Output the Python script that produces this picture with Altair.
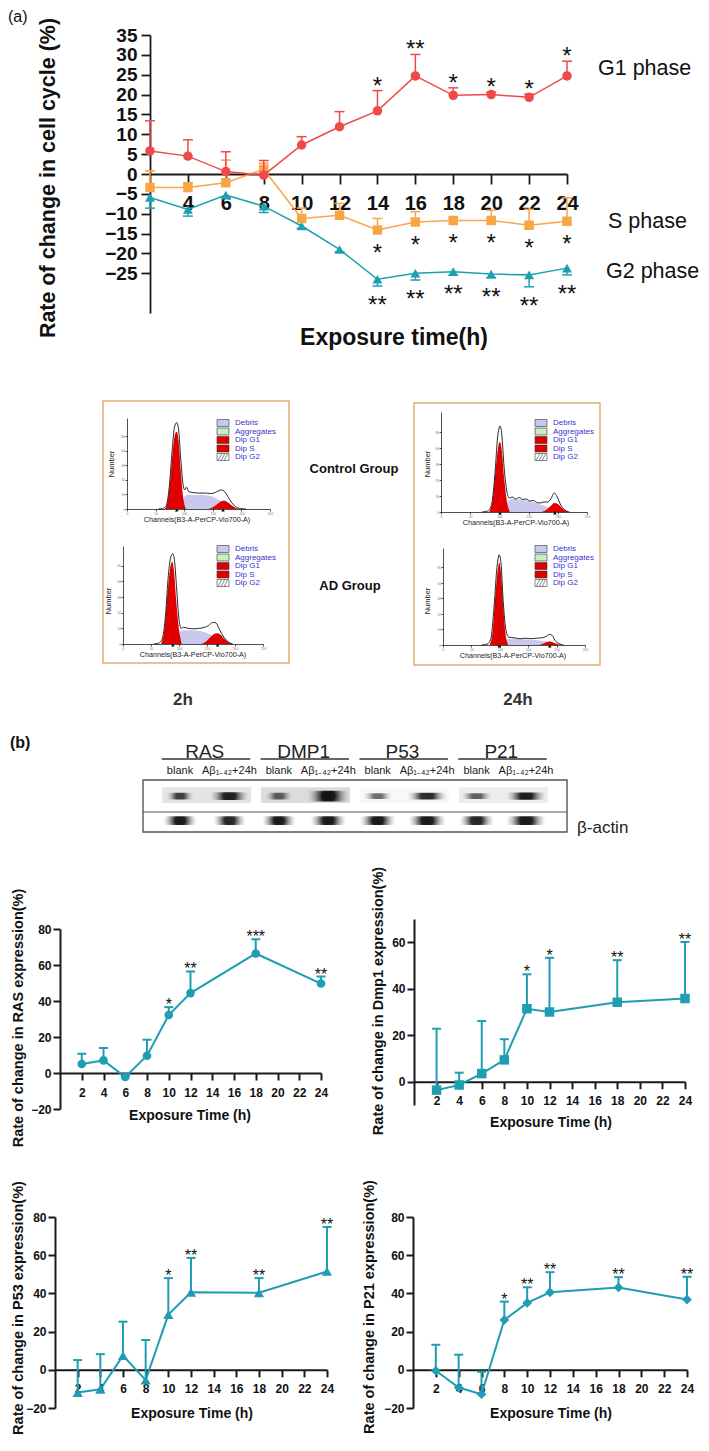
import altair as alt
import pandas as pd

FONT = "Liberation Sans"
W, H = 693, 1435
O = 8  # page margin: reference pixel -> chart pixel

# ===================== (a) cell-cycle phases =====================
hours_a = [2, 4, 6, 8, 10, 12, 14, 16, 18, 20, 22, 24]
g1_mean = [5.8, 4.5, 0.6, -0.3, 7.3, 11.9, 15.9, 24.7, 19.8, 20.0, 19.3, 24.7]
g1_err = [13.4, 8.6, 5.6, 3.4, 9.4, 15.7, 21.0, 30.1, 21.7, 20.6, 20.1, 28.4]
g1_sig = ["", "", "", "", "", "", "*", "**", "*", "*", "*", "*"]
s_mean = [-3.4, -3.4, -2.2, 1.2, -11.2, -10.4, -14.1, -12.1, -11.7, -11.7, -12.9, -11.9]
s_err = [0.8, -2.2, 3.5, 2.7, -8.6, -7.4, -11.2, -9.5, -11.0, -9.1, -8.9, -6.0]
s_sig = ["", "", "", "", "", "", "*", "*", "*", "*", "*", "*"]
g2_mean = [-5.9, -8.9, -5.3, -8.1, -13.1, -19.0, -26.5, -25.0, -24.6, -25.2, -25.4, -23.7]
g2_err = [-8.6, -10.6, -6.0, -9.7, -13.7, -19.6, -28.2, -26.7, -25.5, -26.1, -28.4, -25.4]
g2_sig = ["", "", "", "", "", "", "**", "**", "**", "**", "**", "**"]
a_xticks = [4, 6, 8, 10, 12, 14, 16, 18, 20, 22, 24]
a_yticks = [-25, -20, -15, -10, -5, 0, 5, 10, 15, 20, 25, 30, 35]

# ===================== flow cytometry histograms (channel, count) =====================
lt_outline = [(55, 0), (62, 0.5), (68, 3), (74, 25), (79, 65), (83, 90), (87, 95), (90, 88), (94, 55),
              (98, 27), (101, 21), (104, 24), (108, 19), (116, 18), (126, 17.5), (136, 17.5), (146, 17),
              (154, 18), (160, 20), (165, 21), (170, 19.5), (176, 14), (183, 7), (190, 2.5), (198, 0.5), (208, 0)]
lt_g1 = [(66, 0), (71, 8), (76, 35), (81, 70), (85, 84), (87, 85), (90, 76), (94, 42), (98, 14), (103, 0)]
lt_debris = [(95, 0), (99, 12), (104, 15.5), (115, 15.5), (130, 15.5), (145, 14.5), (158, 11), (170, 6.5),
             (182, 2.5), (195, 0)]
lt_g2 = [(142, 0), (150, 2), (158, 5.5), (165, 8.5), (170, 9), (176, 7.5), (184, 3.5), (192, 0.5), (196, 0)]

lb_outline = [(55, 0), (64, 1), (70, 5), (76, 30), (81, 70), (86, 90), (89, 92), (92, 85), (96, 55),
              (100, 25), (104, 16), (108, 17), (116, 16), (126, 15.5), (136, 16), (146, 17), (153, 19),
              (160, 22), (166, 21.5), (172, 15), (180, 7), (188, 2), (196, 0)]
lb_g1 = [(68, 0), (74, 15), (80, 55), (85, 80), (88, 84), (91, 75), (95, 45), (100, 15), (105, 0)]
lb_debris = [(97, 0), (101, 12), (108, 14), (125, 14), (140, 13), (155, 10), (168, 5.5), (182, 1.5), (195, 0)]
lb_g2 = [(140, 0), (148, 2.5), (156, 7), (164, 10.5), (169, 11), (175, 9), (183, 4), (191, 1), (196, 0)]

rt_outline = [(70, 0), (80, 1), (86, 6), (92, 35), (97, 75), (101, 86), (104, 78), (108, 45), (113, 20),
              (117, 14), (122, 15), (128, 13), (134, 14.5), (140, 12.5), (146, 13), (152, 11), (158, 11.5),
              (164, 9.5), (170, 9), (176, 10), (182, 10), (188, 13), (194, 19), (199, 15), (205, 7),
              (212, 2), (220, 0)]
rt_g1 = [(82, 0), (88, 10), (94, 45), (99, 68), (101, 70), (104, 62), (108, 35), (113, 10), (118, 0)]
rt_debris = [(111, 0), (115, 11), (122, 13), (135, 12.5), (150, 11), (165, 8.5), (180, 5.5), (195, 2.5), (210, 0)]
rt_g2 = [(172, 0), (180, 2), (188, 6), (194, 9), (200, 8), (207, 4), (214, 1), (218, 0)]

rb_outline = [(68, 0), (78, 1), (84, 6), (90, 40), (95, 80), (99, 93), (102, 85), (106, 45), (111, 15),
              (116, 8), (125, 7.5), (135, 6.5), (145, 7), (155, 6.5), (165, 7), (175, 7.5), (182, 9),
              (187, 11), (192, 10), (197, 5), (204, 1.5), (212, 0)]
rb_g1 = [(82, 0), (87, 12), (92, 50), (97, 80), (99, 85), (102, 75), (106, 40), (110, 12), (115, 0)]
rb_debris = [(109, 0), (113, 6), (125, 6.5), (145, 6), (165, 5), (180, 4), (195, 2), (208, 0)]
rb_g2 = [(170, 0), (177, 1.5), (183, 3), (188, 3.5), (194, 2.5), (201, 1), (208, 0)]

peak_channels = {"lt": [87, 168], "lb": [89, 169], "rt": [101, 195], "rb": [99, 188]}
legend_names = ["Debris", "Aggregates", "Dip G1", "Dip S", "Dip G2"]
legend_fills = ["#c9c9f0", "#c6efc6", "#e10000", "#e10000", "#ffffff"]
hist_xticks = [0, 50, 100, 150, 200, 250]
hist_yticks = [0, 16, 32, 48, 64, 80]

# ===================== western blot =====================
blot_groups = ["RAS", "DMP1", "P53", "P21"]
blot_lane_labels = ["blank", "Aβ₁₋₄₂+24h"] * 4
blot_lanes = [0, 1, 2, 3, 4, 5, 6, 7]
target_intensity = [0.8, 0.95, 0.65, 1.0, 0.6, 0.9, 0.65, 0.95]
target_width = [0.55, 0.78, 0.55, 0.85, 0.58, 0.8, 0.62, 0.8]
target_thick = [0.13, 0.15, 0.13, 0.21, 0.11, 0.13, 0.11, 0.14]
actin_intensity = [0.97, 0.92, 0.97, 0.97, 0.97, 0.97, 0.92, 0.97]
actin_width = [0.68, 0.66, 0.68, 0.72, 0.72, 0.76, 0.7, 0.8]
blot_bg = ["#e4e4e4", "#dcdcdc", "#f8f8f8", "#ededed"]

# ===================== (b) expression time courses =====================
hours_b = [2, 4, 6, 8, 10, 12, 18, 24]
b_xticks = [2, 4, 6, 8, 10, 12, 14, 16, 18, 20, 22, 24]
ras = [5.0, 7.0, -2.2, 9.6, 32.2, 44.4, 66.4, 49.7]
ras_err = [10.7, 13.9, -1.6, 18.5, 36.6, 56.4, 74.3, 53.6]
ras_sig = ["", "", "", "", "*", "**", "***", "**"]
dmp1 = [-3.6, -1.4, 3.5, 9.4, 31.4, 30.0, 34.2, 35.8]
dmp1_err = [22.8, 3.9, 26.1, 18.3, 46.2, 53.3, 52.3, 60.1]
dmp1_sig = ["", "", "", "", "*", "*", "**", "**"]
p53 = [-11.9, -10.2, 7.4, -5.4, 28.9, 40.6, 40.3, 51.5]
p53_err = [5.1, 8.2, 25.2, 15.6, 48.0, 58.6, 48.0, 74.8]
p53_sig = ["", "", "", "", "*", "**", "**", "**"]
p21 = [-0.5, -9.3, -12.8, 26.1, 35.0, 40.6, 43.1, 36.8]
p21_err = [13.1, 7.9, -1.0, 35.7, 43.2, 51.1, 48.5, 48.7]
p21_sig = ["", "", "", "*", "**", "**", "**", "**"]

RED, ORANGE, TEAL, TEAL_B = "#ef4a4a", "#f8a546", "#1fa0b2", "#1f9db3"

# ===================== helpers =====================
def sc(domain, r0, r1):
    return alt.Scale(domain=domain, range=[r0 - O, r1 - O], nice=False, zero=False)


def ax_left(xref, values, fs, tick, pad, width, labels=True, color="#1a1a1a", lcolor="#111111", weight="bold"):
    return alt.Axis(orient="left", offset=-(xref - O), values=values, title=None, grid=False,
                    labels=labels, labelFont=FONT, labelFontSize=fs, labelFontWeight=weight,
                    labelColor=lcolor, labelPadding=pad, labelOverlap=False, labelFlush=False,
                    tickSize=tick, tickWidth=width, tickColor=color, domainWidth=width, domainColor=color)


def ax_bottom(yref, values, fs, tick, pad, width, labels=True, color="#1a1a1a", lcolor="#111111", weight="bold"):
    return alt.Axis(orient="bottom", offset=(yref - O) - H, values=values, title=None, grid=False,
                    labels=labels, labelFont=FONT, labelFontSize=fs, labelFontWeight=weight,
                    labelColor=lcolor, labelPadding=pad, labelOverlap=False, labelFlush=False,
                    tickSize=tick, tickWidth=width, tickColor=color, domainWidth=width, domainColor=color)


def one():
    return pd.DataFrame({"t": [""]})


def label(text, x, y, size, weight="normal", align="center", baseline="middle", angle=0, color="#111111"):
    return alt.Chart(pd.DataFrame({"t": [text]})).mark_text(
        font=FONT, fontSize=size, fontWeight=weight, align=align, baseline=baseline,
        angle=angle, color=color).encode(x=alt.value(x - O), y=alt.value(y - O), text="t:N")


def frame(x0, y0, x1, y1, color, width):
    return alt.Chart(one()).mark_rect(fill="#ffffff", fillOpacity=0, stroke=color, strokeWidth=width).encode(
        x=alt.value(x0 - O), x2=alt.value(x1 - O), y=alt.value(y0 - O), y2=alt.value(y1 - O))


def hline(x0, x1, y, color, width):
    return alt.Chart(one()).mark_rule(color=color, strokeWidth=width).encode(
        x=alt.value(x0 - O), x2=alt.value(x1 - O), y=alt.value(y - O))


def series(x, mean, err, sig, xs, ys, color, shape, size, lw, cap, star_fs, star_field, star_dy):
    df = pd.DataFrame({"h": x, "v": mean, "e": err, "sig": sig})
    base = alt.Chart(df)
    X = alt.X("h:Q", scale=xs, axis=None)
    Yv = alt.Y("v:Q", scale=ys, axis=None)
    Ye = alt.Y("e:Q", scale=ys, axis=None)
    return [
        base.mark_rule(color=color, strokeWidth=lw).encode(x=X, y=Yv, y2="e:Q"),
        base.mark_tick(color=color, orient="horizontal", size=cap, thickness=lw, opacity=1).encode(x=X, y=Ye),
        base.mark_line(color=color, strokeWidth=lw).encode(x=X, y=Yv),
        base.mark_point(filled=True, shape=shape, size=size, color=color, opacity=1).encode(x=X, y=Yv),
        base.mark_text(font=FONT, fontSize=star_fs, baseline="alphabetic", dy=star_dy, color="#111111").encode(
            x=X, y=alt.Y(star_field + ":Q", scale=ys, axis=None), text="sig:N"),
    ]


def axis_layer(xs, ys, xaxis, yaxis, xdom, ydom):
    df = pd.DataFrame({"h": xdom, "v": ydom})
    return alt.Chart(df).mark_point(opacity=0).encode(
        x=alt.X("h:Q", scale=xs, axis=xaxis), y=alt.Y("v:Q", scale=ys, axis=yaxis))


layers = []

# ===================== panel (a) =====================
xa = sc([2, 24], 150, 567)
ya = sc([-35, 35], 313, 35)
layers.append(axis_layer(xa, ya, ax_bottom(174, a_xticks, 20, 10, 9, 1.8),
                         ax_left(150, a_yticks, 19, 9, 4, 1.8), [2, 24], [-35, 35]))
layers += series(hours_a, g2_mean, g2_err, g2_sig, xa, ya, TEAL, "triangle-up", 100, 1.5, 10, 24, "e", 27)
layers += series(hours_a, s_mean, s_err, s_sig, xa, ya, ORANGE, "square", 90, 1.5, 10, 24, "v", 31)
layers += series(hours_a, g1_mean, g1_err, g1_sig, xa, ya, RED, "circle", 90, 1.5, 10, 24, "e", 3)
layers.append(label("(a)", 8, 17, 16, align="left"))
layers.append(label("Rate of change in cell cycle (%)", 55, 178, 21.5, weight="bold",
                    baseline="alphabetic", angle=270))
layers.append(label("Exposure time(h)", 394, 345, 23, weight="bold", baseline="alphabetic"))
layers.append(label("G1 phase", 598, 75, 21.5, align="left", baseline="alphabetic"))
layers.append(label("S phase", 608, 228, 21.5, align="left", baseline="alphabetic"))
layers.append(label("G2 phase", 606, 278, 21.5, align="left", baseline="alphabetic"))

# ===================== flow cytometry =====================
BOX = "#e2ad72"
layers.append(frame(103, 401, 289, 663, BOX, 1.5))
layers.append(frame(414, 403, 600, 665, BOX, 1.5))

panels = [
    dict(key="lt", x0=127, x1=270, base=509, top=418, leg0=423, sw=223, tx=235, num=(114, 464), ch=(197, 520),
         data=(lt_outline, lt_g1, lt_debris, lt_g2)),
    dict(key="lb", x0=123, x1=263, base=644, top=546, leg0=549, sw=223, tx=235, num=(111, 601), ch=(193, 655),
         data=(lb_outline, lb_g1, lb_debris, lb_g2)),
    dict(key="rt", x0=441, x1=587, base=512, top=412, leg0=423, sw=541, tx=553, num=(430, 464), ch=(516, 523),
         data=(rt_outline, rt_g1, rt_debris, rt_g2)),
    dict(key="rb", x0=443, x1=585, base=645, top=548, leg0=549, sw=541, tx=553, num=(430, 601), ch=(513, 656),
         data=(rb_outline, rb_g1, rb_debris, rb_g2)),
]
SW_PATH = "M-1,-0.58L1,-0.58L1,0.58L-1,0.58Z"
HATCH_PATH = "M-0.8,0.58L-0.2,-0.58M-0.3,0.58L0.3,-0.58M0.2,0.58L0.8,-0.58"

for p in panels:
    xs = sc([0, 250], p["x0"], p["x1"])
    ys = sc([0, 100], p["base"], p["top"])
    outline, g1, debris, g2 = p["data"]
    layers.append(axis_layer(
        xs, ys,
        ax_bottom(p["base"], hist_xticks, 3.2, 2, 0.3, 0.8, color="#222222", lcolor="#777777", weight="normal"),
        ax_left(p["x0"], hist_yticks, 3.2, 2, 0.5, 0.8, color="#222222", lcolor="#777777", weight="normal"),
        [0, 250], [0, 100]))

    def area(pairs, color):
        df = pd.DataFrame(pairs, columns=["c", "n"])
        return alt.Chart(df).mark_area(color=color, interpolate="monotone", opacity=1).encode(
            x=alt.X("c:Q", scale=xs, axis=None), y=alt.Y("n:Q", scale=ys, axis=None), y2=alt.datum(0))

    layers.append(area(debris, "#c9c9ee"))
    layers.append(area(g1, "#e10000"))
    layers.append(area(g2, "#e10000"))
    dfo = pd.DataFrame(outline, columns=["c", "n"])
    layers.append(alt.Chart(dfo).mark_line(color="#111111", strokeWidth=0.9, interpolate="monotone").encode(
        x=alt.X("c:Q", scale=xs, axis=None), y=alt.Y("n:Q", scale=ys, axis=None)))
    dfp = pd.DataFrame({"c": peak_channels[p["key"]], "n": [0, 0]})
    layers.append(alt.Chart(dfp).mark_point(shape="triangle-up", filled=True, size=12, color="#000000",
                                            opacity=1, yOffset=1).encode(
        x=alt.X("c:Q", scale=xs, axis=None), y=alt.Y("n:Q", scale=ys, axis=None)))

    leg = pd.DataFrame({"row": [0, 1, 2, 3, 4], "name": legend_names, "fill": legend_fills})
    ls = sc([0, 4], p["leg0"], p["leg0"] + 34)
    layers.append(alt.Chart(leg).mark_point(shape=SW_PATH, size=144, filled=True, stroke="#333333",
                                            strokeWidth=0.6, opacity=1).encode(
        x=alt.value(p["sw"] - O), y=alt.Y("row:Q", scale=ls, axis=None), fill=alt.Fill("fill:N", scale=None)))
    layers.append(alt.Chart(leg[leg["row"] == 4]).mark_point(shape=HATCH_PATH, size=144, filled=False,
                                                             color="#555555", strokeWidth=0.7, opacity=1).encode(
        x=alt.value(p["sw"] - O), y=alt.Y("row:Q", scale=ls, axis=None)))
    layers.append(alt.Chart(leg).mark_text(font=FONT, fontSize=8, align="left", baseline="middle",
                                           color="#3b30cc").encode(
        x=alt.value(p["tx"] - O), y=alt.Y("row:Q", scale=ls, axis=None), text="name:N"))
    layers.append(label("Number", p["num"][0], p["num"][1], 7.5, baseline="alphabetic", angle=270,
                        color="#222222"))
    layers.append(label("Channels(B3-A-PerCP-Vio700-A)", p["ch"][0], p["ch"][1], 7.2, color="#222222"))

layers.append(label("Control Group", 354, 469, 13, weight="bold"))
layers.append(label("AD Group", 350, 586, 13, weight="bold"))
layers.append(label("2h", 183, 700, 17, weight="bold", color="#333333"))
layers.append(label("24h", 518, 700, 17, weight="bold", color="#333333"))

# ===================== western blot =====================
layers.append(label("(b)", 10, 743, 16, weight="bold", align="left"))
lane_x = sc([0, 7], 180, 526)
blot_y = sc([0, 1], 780, 832)

grp = pd.DataFrame({"g": [0, 2, 4, 6], "name": blot_groups, "bg": blot_bg})
grp["mid"] = grp["g"] + 0.5
grp["l0"] = grp["g"] - 0.37
grp["l1"] = grp["g"] + 1.42
layers.append(alt.Chart(grp).mark_text(font=FONT, fontSize=19, color="#222222", baseline="middle").encode(
    x=alt.X("mid:Q", scale=lane_x, axis=None), y=alt.value(752 - O), text="name:N"))
layers.append(alt.Chart(grp).mark_rule(color="#333333", strokeWidth=1.3).encode(
    x=alt.X("l0:Q", scale=lane_x, axis=None), x2="l1:Q", y=alt.value(759 - O)))
lanes_df = pd.DataFrame({"lane": blot_lanes, "name": blot_lane_labels})
layers.append(alt.Chart(lanes_df).mark_text(font=FONT, fontSize=11, color="#222222", baseline="middle").encode(
    x=alt.X("lane:Q", scale=lane_x, axis=None), y=alt.value(771 - O), text="name:N"))

grp["b0"] = grp["g"] - 0.36
grp["b1"] = grp["g"] + 1.44
grp["y0"] = 0.14
grp["y1"] = 0.44
layers.append(alt.Chart(grp).mark_rect(opacity=1).encode(
    x=alt.X("b0:Q", scale=lane_x, axis=None), x2="b1:Q",
    y=alt.Y("y0:Q", scale=blot_y, axis=None), y2="y1:Q", fill=alt.Fill("bg:N", scale=None)))

band_grad = alt.RadialGradient(
    gradient="radial", x1=0.5, y1=0.5, r1=0, x2=0.5, y2=0.5, r2=0.5,
    stops=[alt.GradientStop(color="#101010", offset=0), alt.GradientStop(color="#181818", offset=0.3),
           alt.GradientStop(color="rgba(60,60,60,0.4)", offset=0.65),
           alt.GradientStop(color="rgba(140,140,140,0)", offset=1)])
tgt = pd.DataFrame({"lane": blot_lanes, "i": target_intensity, "w": target_width, "t": target_thick})
tgt["x0"] = tgt["lane"] - tgt["w"] / 2
tgt["x1"] = tgt["lane"] + tgt["w"] / 2
tgt["y0"] = 0.31 - tgt["t"] / 2
tgt["y1"] = 0.31 + tgt["t"] / 2
act = pd.DataFrame({"lane": blot_lanes, "i": actin_intensity, "w": actin_width})
act["x0"] = act["lane"] - act["w"] / 2
act["x1"] = act["lane"] + act["w"] / 2
act["y0"] = 0.78 - 0.085
act["y1"] = 0.78 + 0.085
for df in (tgt, act):
    layers.append(alt.Chart(df).mark_rect(fill=band_grad).encode(
        x=alt.X("x0:Q", scale=lane_x, axis=None), x2="x1:Q",
        y=alt.Y("y0:Q", scale=blot_y, axis=None), y2="y1:Q",
        opacity=alt.Opacity("i:Q", scale=None, legend=None)))
layers.append(frame(143, 780, 567, 832, "#555555", 1.4))
layers.append(hline(143, 567, 812, "#555555", 1.2))
layers.append(label("β-actin", 577, 828, 17, align="left", color="#222222"))

# ===================== (b) four time-course charts =====================
bcharts = [
    dict(y=ras, e=ras_err, s=ras_sig, shape="circle", size=75, x0=60, x1=321, yb=1109, yt=929, dom=[-20, 80],
         zero=1073, yticks=[-20, 0, 20, 40, 60, 80],
         title="Rate of change in RAS expression(%)", tx=23, ty=1018, xt=(190, 1120)),
    dict(y=dmp1, e=dmp1_err, s=dmp1_sig, shape="square", size=90, x0=414, x1=685, yb=1105, yt=919,
         dom=[-10, 70], zero=1081.75, yticks=[0, 20, 40, 60],
         title="Rate of change in Dmp1 expression(%)", tx=383, ty=1001, xt=(551, 1127)),
    dict(y=p53, e=p53_err, s=p53_sig, shape="triangle-up", size=105, x0=55, x1=327, yb=1408, yt=1217,
         dom=[-20, 80], zero=1369.8, yticks=[-20, 0, 20, 40, 60, 80],
         title="Rate of change in P53 expression(%)", tx=23, ty=1308, xt=(192, 1418)),
    dict(y=p21, e=p21_err, s=p21_sig, shape="diamond", size=95, x0=413, x1=687, yb=1408, yt=1217,
         dom=[-20, 80], zero=1369.8, yticks=[-20, 0, 20, 40, 60, 80],
         title="Rate of change in P21 expression(%)", tx=374, ty=1307, xt=(551, 1418)),
]
for c in bcharts:
    xs = sc([0, 24], c["x0"], c["x1"])
    ys = sc(c["dom"], c["yb"], c["yt"])
    layers.append(axis_layer(xs, ys, ax_bottom(c["zero"], b_xticks, 12, 7, 7, 2),
                             ax_left(c["x0"], c["yticks"], 12, 7, 2, 2), [0, 24], c["dom"]))
    layers += series(hours_b, c["y"], c["e"], c["s"], xs, ys, TEAL_B, c["shape"], c["size"], 2, 9, 16, "e", 3)
    layers.append(label(c["title"], c["tx"], c["ty"], 14.5, weight="bold", baseline="alphabetic", angle=270))
    layers.append(label("Exposure Time (h)", c["xt"][0], c["xt"][1], 14, weight="bold", baseline="alphabetic"))

chart = alt.layer(*layers).resolve_scale(x="independent", y="independent").properties(
    width=W, height=H, padding=0, autosize=alt.AutoSizeParams(type="none")
).configure_view(strokeWidth=0)

chart.save("out.html", embed_options={"renderer": "svg", "actions": False})
